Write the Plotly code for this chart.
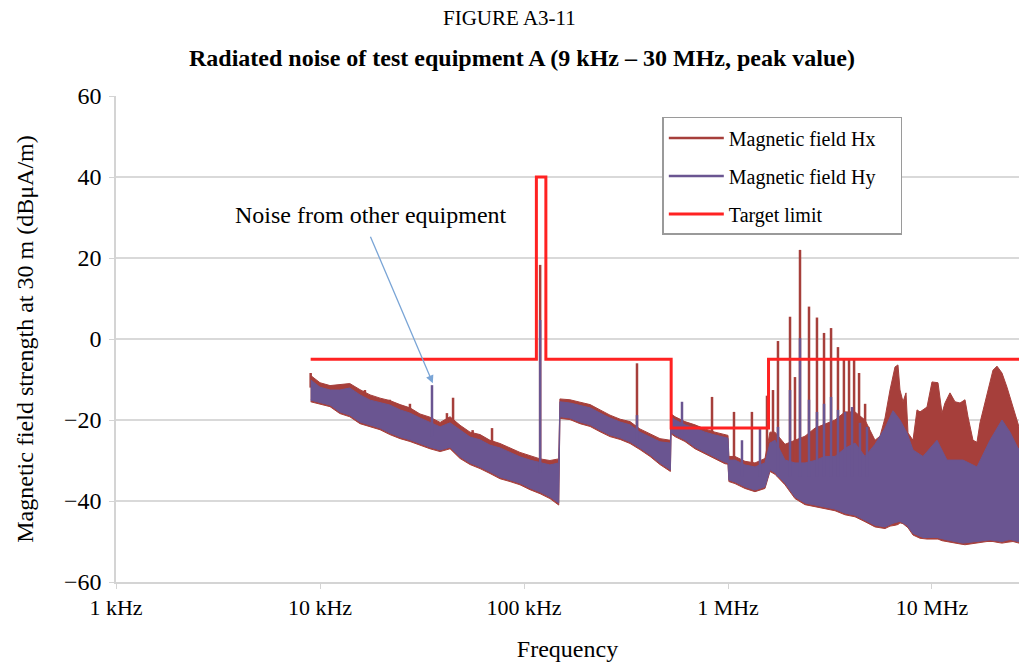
import plotly.graph_objects as go

# ---------------- data (frequency in kHz, level in dBuA/m) ----------------
HY_F = [9.0, 10.0, 11.2, 12.5, 14.0, 15.7, 17.6, 19.7, 22.0, 24.7, 27.6, 30.9, 34.6, 38.8,
        43.4, 48.6, 54.4, 60.9, 68.1, 76.3, 85.4, 95.6, 107, 120, 134, 148,
        150, 168, 188, 211, 236, 264, 296, 331, 370, 415, 464, 522,
        526, 550, 615, 689, 771, 863, 966, 1000, 1010, 1082, 1211, 1356, 1518,
        1606, 1700, 1903, 2130, 2385, 2670, 2989, 3346, 3746, 4194, 4695, 5256, 5884,
        6440, 6969, 7542, 8071, 9034, 10580, 11843, 14190, 16620, 19245, 22035, 24120,
        26400, 30000]
HY_HI = [-10.1, -11.9, -12.6, -12.6, -12.1, -13.8, -15.1, -15.8, -16.3, -17.5, -18.3, -19.5, -20.5, -21.7,
         -20.7, -22.5, -24.2, -24.9, -26.2, -26.9, -28.1, -29.1, -29.9, -30.6, -31.1, -30.6,
         -15.5, -15.8, -16.3, -17.0, -18.3, -19.5, -20.5, -21.2, -23.0, -24.2, -25.4, -25.7,
         -19.2, -20.0, -21.2, -22.0, -23.0, -23.7, -24.4, -24.5, -29.9, -29.9, -31.1, -31.6, -30.6,
         -25.7, -25.0, -29.9, -30.6, -30.6, -30.0, -29.0, -29.0, -27.0, -25.7, -29.0, -26.0, -22.0,
         -17.7, -20.0, -23.2, -27.4, -29.0, -25.0, -29.9, -29.9, -31.6, -25.0, -20.0, -23.0,
         -27.0, -28.0]
HY_LO = [-15.1, -15.6, -16.3, -18.0, -18.8, -20.5, -21.2, -22.0, -23.2, -24.2, -24.9, -25.7, -26.7, -27.4,
         -26.7, -29.1, -30.6, -31.6, -32.8, -34.1, -34.8, -35.6, -36.8, -37.8, -39.0, -40.5,
         -19.2, -19.5, -20.5, -21.2, -22.5, -23.7, -24.4, -25.4, -26.9, -28.6, -30.6, -32.3,
         -23.0, -23.7, -24.9, -26.7, -27.9, -29.1, -30.4, -30.5, -34.8, -35.3, -36.5, -37.3, -36.5,
         -32.3, -33.0, -35.6, -39.0, -40.5, -41.0, -41.5, -42.0, -43.0, -43.5, -44.7, -46.0, -46.4,
         -45.5, -45.0, -46.0, -48.0, -49.0, -49.0, -49.6, -50.4, -50.0, -49.6, -50.0, -49.5,
         -50.0, -50.0]

HX_F = [9.0, 10.0, 11.2, 12.5, 14.0, 15.7, 17.6, 19.7, 22.0, 24.7, 27.6, 30.9, 34.6, 38.8,
        43.4, 48.6, 54.4, 60.9, 68.1, 76.3, 85.4, 95.6, 107, 120, 134, 148,
        150, 168, 188, 211, 236, 264, 296, 331, 370, 415, 464, 522,
        526, 550, 615, 689, 771, 863, 966, 1000, 1010, 1082, 1211, 1356, 1518,
        1606, 1700, 1903, 2130, 2385, 2670, 2989, 3346, 3746, 4194, 4695, 5256, 5561,
        5884, 6226, 6587, 6812, 6969, 7209, 7457, 7628, 8071, 8444, 8735, 9452, 10000,
        10700, 11195, 11580, 12250, 12965, 13720, 14515, 15015, 15888, 16620, 17190,
        18605, 19905, 20825, 22035, 23315, 24950, 26700, 30000]
HX_HI = [-9.0, -10.8, -11.5, -11.2, -11.0, -12.5, -13.8, -14.6, -15.2, -16.2, -17.0, -18.5, -19.3, -20.6,
         -19.2, -21.3, -23.0, -23.6, -25.0, -25.8, -27.0, -28.0, -28.8, -29.6, -30.0, -29.6,
         -14.8, -15.0, -15.6, -16.2, -17.5, -18.8, -19.8, -20.4, -22.2, -23.4, -24.6, -25.0,
         -18.5, -19.2, -20.4, -21.2, -22.2, -23.0, -23.6, -23.8, -29.0, -29.0, -30.2, -30.6, -29.5,
         -23.0, -23.0, -26.0, -25.0, -24.0, -22.0, -21.0, -20.0, -18.0, -18.0, -20.0, -25.0, -24.0,
         -19.5, -12.6, -6.9, -6.4, -12.6, -15.5, -13.3, -23.2, -25.0, -17.5, -18.0, -16.8, -10.6,
         -10.8, -18.3, -15.8, -13.3, -15.5, -15.8, -15.0, -19.2, -25.0, -25.5, -20.7,
         -13.3, -7.7, -6.7, -8.4, -11.9, -16.8, -21.7, -23.0]
HX_LO = [-15.5, -16.0, -16.7, -18.4, -19.2, -20.9, -21.6, -22.4, -23.6, -24.6, -25.3, -26.1, -27.1, -27.8,
         -27.1, -29.5, -31.0, -32.0, -33.2, -34.5, -35.2, -36.0, -37.2, -38.2, -39.4, -41.0,
         -19.6, -19.9, -20.9, -21.6, -22.9, -24.1, -24.8, -25.8, -27.3, -29.0, -31.0, -32.7,
         -23.4, -24.1, -25.3, -27.1, -28.3, -29.5, -30.8, -30.9, -35.2, -35.7, -36.9, -37.7, -36.9,
         -32.7, -33.4, -36.0, -39.4, -40.9, -41.4, -41.9, -42.4, -43.4, -43.9, -45.1, -46.4, -46.6,
         -46.8, -46.2, -46.0, -45.8, -45.4, -45.6, -46.2, -46.6, -48.4, -48.8, -49.2, -49.4, -49.4,
         -49.4, -49.8, -50.0, -50.2, -50.4, -50.6, -50.8, -50.8, -50.6, -50.4, -50.3,
         -50.0, -50.0, -50.2, -50.4, -50.2, -50.0, -50.4, -50.4]

# narrow spikes (frequency, peak level, level at foot)
HX_SPK_F = [9.0, 12.0, 16.6, 22.0, 27.6, 41.9, 44.9, 56.0, 69.7, 120, 358, 835, 1070, 1310, 1553, 1662, 1758,
            2014, 2130, 2254, 2495, 2730, 2956, 3200, 3460, 3700, 3920, 4150, 4390, 4700, 4880]
HX_SPK_PK = [-8.4, -11.9, -12.6, -15.0, -16.0, -18.3, -14.5, -22.5, -22.0, 18.3, -6.0, -14.3, -18.0, -18.0, -14.0, -12.6, -0.5,
             5.5, -9.4, 22.0, 8.0, 5.3, 1.5, 2.7, -2.0, -4.7, -5.0, -4.7, -8.4, -16.0, -21.7]
HX_SPK_FOOT = [-12.0, -15.0, -16.0, -18.0, -19.0, -21.0, -21.0, -26.0, -28.0, -32.0, -25.0, -26.0, -31.0, -33.0, -32.0, -30.0, -30.0,
               -33.0, -33.0, -33.0, -33.0, -33.0, -33.0, -33.0, -33.0, -33.0, -33.0, -33.0, -33.0, -33.0, -33.0]

HY_SPK_F = [35.4, 120, 358, 595, 1171, 1435, 1758, 2014, 2254, 2495, 2730, 2956, 3200, 3460, 3750,
            4055, 4436, 4800]
HY_SPK_PK = [-11.4, 4.7, -18.8, -15.5, -25.0, -22.0, -21.7, -12.6, 0.2, -15.0, -18.0, -16.0, -14.3, -17.5, -18.0,
             -16.8, -20.7, -21.7]
HY_SPK_FOOT = [-24.0, -33.0, -26.0, -24.0, -34.0, -34.0, -34.0, -34.0, -34.0, -34.0, -34.0, -34.0, -34.0, -34.0, -34.0,
               -34.0, -34.0, -34.0]

LIMIT_F = [9.0, 115, 115, 128, 128, 526.5, 526.5, 1580, 1580, 30000]
LIMIT_DB = [-5, -5, 40, 40, -5, -5, -22, -22, -5, -5]

TICK_F = [1, 10, 100, 1000, 10000]
TICK_TXT = ["1 kHz", "10 kHz", "100 kHz", "1 MHz", "10 MHz"]

HX_COLOR = "#a63f3b"
HY_COLOR = "#6a5591"
LIM_COLOR = "#ff2222"
FONT = "Liberation Serif"


def band(f, hi, lo):
    return list(f) + list(f)[::-1], list(hi) + list(lo)[::-1]


def spikes(f, pk, foot):
    xs, ys = [], []
    for a, b, c in zip(f, pk, foot):
        xs += [a, a, None]
        ys += [c, b, None]
    return xs, ys


fig = go.Figure()

bx, by = band(HX_F, HX_HI, HX_LO)
fig.add_trace(go.Scatter(x=bx, y=by, fill="toself", fillcolor=HX_COLOR, mode="lines",
                         line=dict(color=HX_COLOR, width=1), showlegend=False, hoverinfo="skip",
                         legendgroup="hx"))
sx, sy = spikes(HX_SPK_F, HX_SPK_PK, HX_SPK_FOOT)
fig.add_trace(go.Scatter(x=sx, y=sy, mode="lines", line=dict(color=HX_COLOR, width=2.5),
                         name="Magnetic field Hx&nbsp;&nbsp;&nbsp;&nbsp;", legendgroup="hx"))

bx, by = band(HY_F, HY_HI, HY_LO)
fig.add_trace(go.Scatter(x=bx, y=by, fill="toself", fillcolor=HY_COLOR, mode="lines",
                         line=dict(color=HY_COLOR, width=1), showlegend=False, hoverinfo="skip",
                         legendgroup="hy"))
sx, sy = spikes(HY_SPK_F, HY_SPK_PK, HY_SPK_FOOT)
fig.add_trace(go.Scatter(x=sx, y=sy, mode="lines", line=dict(color=HY_COLOR, width=2.5),
                         name="Magnetic field Hy", legendgroup="hy"))

fig.add_trace(go.Scatter(x=LIMIT_F, y=LIMIT_DB, mode="lines",
                         line=dict(color=LIM_COLOR, width=3), name="Target limit",
                         legendgroup="lim"))

fig.update_layout(
    width=1019, height=663,
    margin=dict(l=116, r=0, t=96, b=81),
    paper_bgcolor="white", plot_bgcolor="white",
    font=dict(family=FONT, color="black", size=20),
    showlegend=True,
    legend=dict(x=0.605, y=0.957, xanchor="left", yanchor="top",
                bgcolor="white", bordercolor="#9a9a9a", borderwidth=1.5,
                font=dict(family=FONT, size=20), tracegroupgap=9,
                itemwidth=55),
    xaxis=dict(type="log", range=[0, 4.4265], tickvals=TICK_F, ticktext=TICK_TXT,
               showgrid=False, zeroline=False, showline=True, linecolor="#d4d4d4", linewidth=1.5,
               ticks="outside", ticklen=5, tickcolor="#d4d4d4",
               tickfont=dict(family=FONT, size=22),
               title=dict(text="Frequency", font=dict(family=FONT, size=24), standoff=21)),
    yaxis=dict(range=[-60, 60], tickvals=[-60, -40, -20, 0, 20, 40, 60],
               showgrid=True, gridcolor="#d9d9d9", gridwidth=1.5, zeroline=False,
               showline=True, linecolor="#d4d4d4", linewidth=1.5,
               ticks="outside", ticklen=5, tickcolor="#d4d4d4",
               tickfont=dict(family=FONT, size=24), ticklabelstandoff=3,
               title=dict(text="Magnetic field strength at 30 m (dBμA/m)",
                          font=dict(family=FONT, size=24), standoff=24)),
    annotations=[
        dict(text="FIGURE A3-11", xref="paper", yref="paper", x=0.436, y=1.160,
             showarrow=False, font=dict(family=FONT, size=21), xanchor="center", yanchor="middle"),
        dict(text="<b>Radiated noise of test equipment A (9 kHz – 30 MHz, peak value)</b>",
             xref="paper", yref="paper", x=0.450, y=1.078,
             showarrow=False, font=dict(family=FONT, size=24), xanchor="center", yanchor="middle"),
        dict(text="Noise from other equipment", xref="paper", yref="paper",
             x=(371 - 116) / 903, y=(582 - 215) / 486, showarrow=False,
             font=dict(family=FONT, size=24), xanchor="center", yanchor="middle"),
        dict(text="", x=1.553, y=-10.9, xref="x", yref="y", showarrow=True,
             ax=-63, ay=-148, axref="pixel", ayref="pixel",
             arrowhead=2, arrowsize=1.2, arrowwidth=1.3, arrowcolor="#7aa5d6", standoff=0),
    ],
)

fig.write_html("out.html")
